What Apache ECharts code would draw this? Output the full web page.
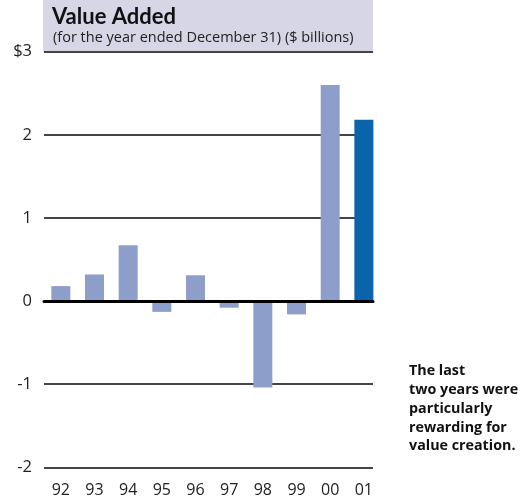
<!DOCTYPE html>
<html>
<head>
<meta charset="utf-8">
<script src="https://cdn.jsdelivr.net/npm/echarts@6/dist/echarts.min.js"></script>
<style>
  html, body { margin: 0; padding: 0; background: #fff; }
  #chart { width: 522px; height: 499px; }
</style>
</head>
<body>
<div id="chart"></div>
<script>
// Value added by year, $ billions
const years = ['92', '93', '94', '95', '96', '97', '98', '99', '00', '01'];
const valueAdded = [0.18, 0.32, 0.67, -0.13, 0.31, -0.08, -1.04, -0.16, 2.60, 2.18];
const yTicks = [-2, -1, 0, 1, 2, 3];

const FONT = '"Open Sans", "Liberation Sans", sans-serif';
const TITLE_FONT = 'Lato, "Open Sans", sans-serif';
const LIGHT = '#8e9ecb';
const DARK = '#0a63ab';

const chart = echarts.init(document.getElementById('chart'), null, { renderer: 'canvas' });

const barData = valueAdded.map((v, i) => ({
  value: v,
  itemStyle: { color: i === valueAdded.length - 1 ? DARK : LIGHT }
}));

chart.setOption({
  animation: false,
  backgroundColor: '#ffffff',
  graphic: [
    { type: 'rect', left: 43, top: 0, shape: { width: 330, height: 52 },
      style: { fill: '#d6d6e6' }, z: 0 },
    { type: 'text', left: 52, top: 6,
      style: { text: 'Value Added', font: 'bold 22px ' + TITLE_FONT, fill: '#111' }, z: 5 },
    { type: 'text', left: 53, top: 30,
      style: { text: '(for the year ended December 31) ($ billions)', font: '14.5px ' + FONT, fill: '#222' }, z: 5 },
    { type: 'text', left: 409, top: 362,
      style: {
        text: 'The last\ntwo years were\nparticularly\nrewarding for\nvalue creation.',
        font: 'bold 14.3px ' + FONT, lineHeight: 18.7, fill: '#111'
      }, z: 5 }
  ],
  grid: [
    { left: 44, right: 149, top: 51.7, bottom: 31.7 },
    { left: 44, width: 336.7, top: 51.7, bottom: 31.7 }
  ],
  xAxis: [
    { gridIndex: 0, type: 'category', data: years, z: 10,
      axisLine: { onZero: true, lineStyle: { color: '#000', width: 3 } },
      axisTick: { show: false }, axisLabel: { show: false }, splitLine: { show: false } },
    { gridIndex: 1, type: 'category', data: years, position: 'bottom',
      axisLine: { show: false }, axisTick: { show: false },
      axisLabel: { fontFamily: FONT, fontSize: 16, color: '#222', margin: 15 } }
  ],
  yAxis: [
    { gridIndex: 0, type: 'value', min: yTicks[0], max: yTicks[yTicks.length - 1], interval: 1,
      axisLine: { show: false }, axisTick: { show: false },
      axisLabel: {
        fontFamily: FONT, fontSize: 16.5, color: '#222', margin: 12,
        verticalAlign: 'middle', padding: [0, 0, 10, 0],
        formatter: v => (v === yTicks[yTicks.length - 1] ? '$' + v : String(v))
      },
      splitLine: { lineStyle: { color: '#444', width: 2 } } },
    { gridIndex: 1, type: 'value', min: yTicks[0], max: yTicks[yTicks.length - 1], interval: 1,
      show: false }
  ],
  series: [
    { type: 'bar', xAxisIndex: 1, yAxisIndex: 1, data: barData, barWidth: 19, z: 2 }
  ]
});
</script>
</body>
</html>
